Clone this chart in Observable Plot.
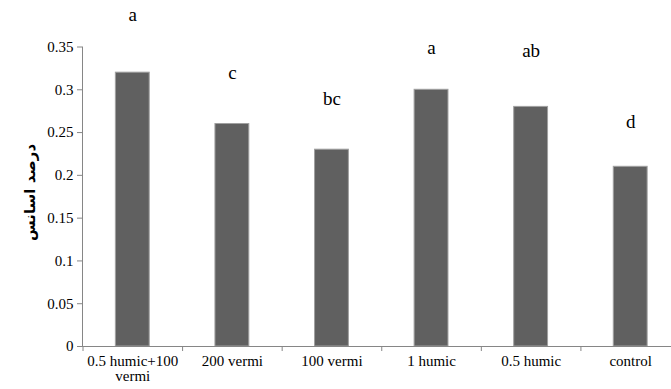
<!DOCTYPE html>
<html>
<head>
<meta charset="utf-8">
<script src="https://cdn.jsdelivr.net/npm/d3@7"></script>
<script src="https://cdn.jsdelivr.net/npm/@observablehq/plot@0.6"></script>
<style>
  html, body { margin: 0; padding: 0; background: #fff; }
  #chart svg text, #chart svg tspan { font-family: "Liberation Serif", "Times New Roman", Times, "DejaVu Serif", serif !important; }
  #chart svg .ylab text { font-family: "DejaVu Sans", sans-serif !important; }
</style>
</head>
<body>
<div id="chart"></div>
<script>
const categories = ["0.5 humic+100\nvermi", "200 vermi", "100 vermi", "1 humic", "0.5 humic", "control"];
const values = [0.32, 0.26, 0.23, 0.30, 0.28, 0.21];
const letters = ["a", "c", "bc", "a", "ab", "d"];
const letterY = [0.387, 0.320, 0.289, 0.349, 0.345, 0.262];
const yTicks = [0, 0.05, 0.1, 0.15, 0.2, 0.25, 0.3, 0.35];
const yLabel = "درصد اسانس";

const data = categories.map((c, i) => ({i, c, v: values[i], l: letters[i], ly: letterY[i]}));
const bounds = d3.range(categories.length + 1);
const centers = categories.map((c, i) => i + 0.5);

const axisColor = "#868686";
const serif = "Liberation Serif, Times New Roman, serif";

const chart = Plot.plot({
  width: 671,
  height: 389,
  marginLeft: 82,
  marginTop: 46.5,
  marginBottom: 43,
  marginRight: 0,
  style: {fontSize: "15px", color: "#000", background: "#fff", fontFamily: serif},
  x: {type: "linear", domain: [0, categories.length], range: [82.5, 680]},
  y: {domain: [0, 0.35]},
  marks: [
    Plot.rectY(data, {x1: d => d.i + 0.33, x2: d => d.i + 0.67, y: "v", fill: "#606060", stroke: "#a0a0a0", strokeWidth: 1}),
    Plot.ruleY([0], {stroke: axisColor, strokeWidth: 1}),
    Plot.frame({anchor: "left", stroke: axisColor}),
    Plot.axisY({ticks: yTicks, tickSize: 5, tickPadding: 4, stroke: axisColor, tickFormat: d => String(+d.toFixed(2)), label: null, fontSize: 15, fontFamily: serif}),
    Plot.axisX({ticks: bounds, tickSize: 5, tickFormat: () => "", stroke: axisColor, label: null}),
    Plot.axisX({ticks: centers, tickSize: 0, tickPadding: 9, lineAnchor: "top", tickFormat: d => categories[Math.floor(d)], label: null, fontSize: 15, fontFamily: serif}),
    Plot.text(data, {x: d => d.i + 0.5, y: "ly", text: "l", fontSize: 19, fontFamily: serif, fill: "#000"}),
    Plot.text([yLabel], {frameAnchor: "left", rotate: -90, dx: -52, fontSize: 15, fontWeight: "bold", fontFamily: "DejaVu Sans", fill: "#000", className: "ylab"})
  ]
});
document.getElementById("chart").appendChild(chart);

// Center the right-to-left rotated label on the frame's vertical middle.
const lab = chart.querySelector(".ylab text");
if (lab) {
  const r = lab.getBoundingClientRect();
  const s = chart.getBoundingClientRect();
  const want = s.top + 46.5 + (389 - 43 - 46.5) / 2 - 4;
  const delta = want - (r.top + r.height / 2);
  lab.setAttribute("transform", `translate(0,${delta}) ` + (lab.getAttribute("transform") || ""));
}
</script>
</body>
</html>
